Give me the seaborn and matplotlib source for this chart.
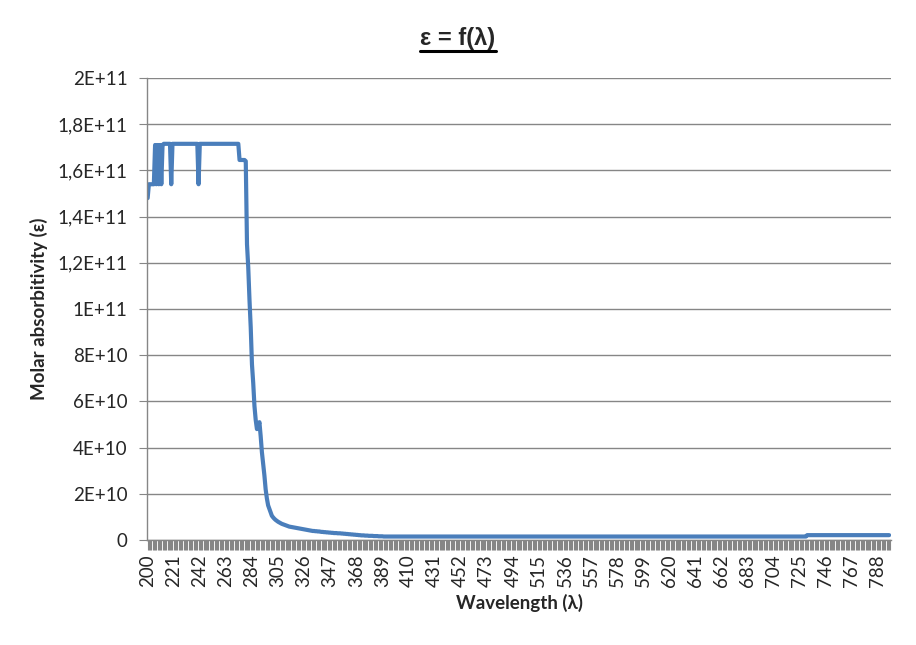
import numpy as np
import pandas as pd
import seaborn as sns
import matplotlib.pyplot as plt
from matplotlib.lines import Line2D
from matplotlib.ticker import FixedLocator, MultipleLocator

# wavelength categories (nm), one point per nm
wavelength = list(range(200, 798))

# molar absorbitivity, in units of 1E+09
eps_start = [148] + [154] * 5                      # 200-205
eps_osc = [171, 154, 171, 154, 171, 154, 171]      # 206-212
eps_plateau = ([171.5] * 6 + [154] + [171.5] * 21 + [154] + [171.5] * 32)  # 213-273
eps_step = [164.5] * 5                             # 274-278
eps_drop = [164, 128, 118, 104, 92, 76, 68, 58, 52, 48, 49, 51, 45, 38, 33,
            28, 22, 18, 15, 13.5, 12, 10.5, 9.8, 9.2, 8.7, 8.3, 7.9, 7.6, 7.3,
            7.0, 6.8, 6.6, 6.4, 6.2, 6.0, 5.8, 5.7, 5.6, 5.5, 5.4, 5.3, 5.2,
            5.1, 5.0]                              # 279-322
eps_tail = [4.9, 4.8, 4.7, 4.6, 4.5, 4.4, 4.3, 4.2, 4.1, 4.0, 3.9, 3.9, 3.8,
            3.8, 3.7, 3.7, 3.6,
            3.5, 3.5, 3.4, 3.4, 3.3, 3.3, 3.2, 3.2, 3.1, 3.1, 3.0, 3.0, 3.0,
            2.9, 2.9, 2.9,
            2.8, 2.8, 2.7, 2.7, 2.6, 2.6, 2.5, 2.5, 2.4, 2.4, 2.3, 2.3, 2.2,
            2.2, 2.1,
            2.1, 2.0, 2.0, 2.0, 1.9, 1.9, 1.9, 1.8, 1.8, 1.8, 1.8, 1.7, 1.7,
            1.7, 1.7, 1.6, 1.6, 1.6, 1.6]          # 323-389
eps_flat = [1.5] * 341 + [2.1] * 67                # 390-797

eps_e9 = eps_start + eps_osc + eps_plateau + eps_step + eps_drop + eps_tail + eps_flat
assert len(eps_e9) == len(wavelength)

xtick_vals = [200, 221, 242, 263, 284, 305, 326, 347, 368, 389, 410, 431, 452,
              473, 494, 515, 536, 557, 578, 599, 620, 641, 662, 683, 704, 725,
              746, 767, 788]
ytick_vals = [0, 2e10, 4e10, 6e10, 8e10, 1e11, 1.2e11, 1.4e11, 1.6e11, 1.8e11, 2e11]
ytick_labels = ['0', '2E+10', '4E+10', '6E+10', '8E+10', '1E+11', '1,2E+11',
                '1,4E+11', '1,6E+11', '1,8E+11', '2E+11']

df = pd.DataFrame({'wavelength': wavelength,
                   'epsilon': np.array(eps_e9) * 1e9})

sns.set_style('white')
plt.rcParams['font.family'] = ['Lato', 'DejaVu Sans']

grey = '#868686'
fig = plt.figure(figsize=(9.16, 6.45), dpi=100)
ax = fig.add_axes([0.1605, 0.1628, 0.8122, 0.7163])

sns.lineplot(data=df, x='wavelength', y='epsilon', ax=ax, color='#4a7ebb',
             linewidth=3.0, solid_capstyle='round')

ax.set_xlim(199.5, 798.5)
ax.set_ylim(0, 2e11)
ax.set_yticks(ytick_vals)
ax.set_yticklabels(ytick_labels, fontsize=13.5)
ax.xaxis.set_major_locator(FixedLocator(xtick_vals))
ax.set_xticklabels([str(v) for v in xtick_vals], rotation=90, fontsize=13.5)
ax.xaxis.set_minor_locator(MultipleLocator(1))
ax.tick_params(axis='x', which='both', length=7, width=0.8, color=grey,
               direction='out', pad=3, bottom=True)
ax.tick_params(axis='y', length=6, width=0.8, color=grey, pad=8, left=True)
ax.yaxis.grid(True, color=grey, linewidth=1)
ax.xaxis.grid(False)
for s in ['top', 'right']:
    ax.spines[s].set_visible(False)
for s in ['left', 'bottom']:
    ax.spines[s].set_color(grey)
    ax.spines[s].set_linewidth(1)

ax.set_xlabel('Wavelength (λ)', fontsize=13.5, fontweight='bold', labelpad=5)
ax.set_ylabel('Molar absorbitivity (ε)', fontsize=13.5, fontweight='bold', labelpad=7)

title = fig.text(0.5, 0.931, 'ε = f(λ)', ha='center', va='baseline',
                 fontsize=17, fontweight='bold',
                 family=['Liberation Sans', 'DejaVu Sans'])
fig.canvas.draw()
bb = title.get_window_extent(fig.canvas.get_renderer())
inv = fig.transFigure.inverted()
(x0, y0), (x1, y1) = inv.transform([(bb.x0, bb.y0 - 1), (bb.x1, bb.y0 - 1)])
fig.add_artist(Line2D([x0, x1], [y0, y1], transform=fig.transFigure,
                      color='black', linewidth=2.2))

fig.savefig('out.png', dpi=100)
